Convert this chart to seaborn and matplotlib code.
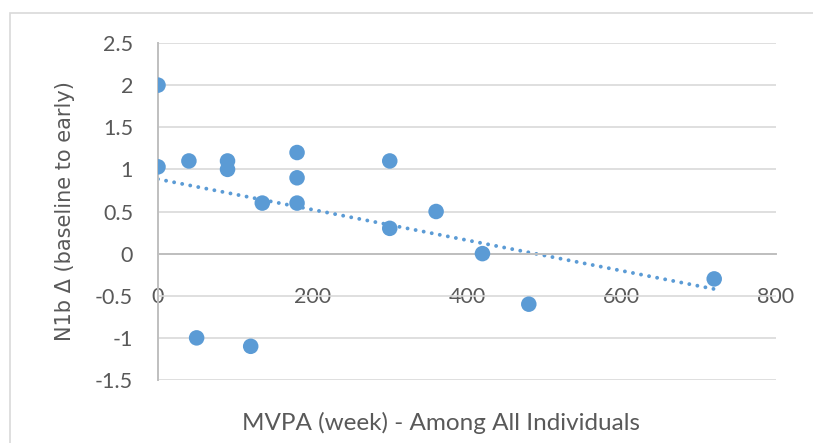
import matplotlib
matplotlib.use('Agg')
import matplotlib.pyplot as plt
from matplotlib.patches import Rectangle
import numpy as np
import pandas as pd
import seaborn as sns

# values
mvpa = [0, 0, 40, 90, 90, 50, 120, 135, 180, 180, 180, 300, 300, 360, 420, 480, 720]
n1b_delta = [2.0, 1.03, 1.1, 1.1, 1.0, -1.0, -1.1, 0.6, 1.2, 0.9, 0.6, 1.1, 0.3, 0.5, 0.0, -0.6, -0.3]
xticks = [0, 200, 400, 600, 800]
yticks = [-1.5, -1, -0.5, 0, 0.5, 1, 1.5, 2, 2.5]

df = pd.DataFrame({'mvpa': mvpa, 'n1b': n1b_delta})
blue = '#5B9BD5'
narrow = ['Lato', 'DejaVu Sans']

sns.set_style('white')
fig = plt.figure(figsize=(8.13, 4.43), dpi=100)
ax = fig.add_axes([158 / 813, 1 - 380 / 443, 618 / 813, 337 / 443])

# chart border
fig.patches.append(Rectangle((10 / 813, -0.1), 1.2, 1 - 13 / 443 + 0.1,
                             transform=fig.transFigure, fill=False,
                             edgecolor='#D9D9D9', lw=1.2))

# linear trendline (Excel style)
slope, icpt = np.polyfit(df.mvpa, df.n1b, 1)
xs = np.array([df.mvpa.min(), df.mvpa.max()])
ax.plot(xs, icpt + slope * xs, color=blue, lw=2.8,
        linestyle=(0, (0.01, 2.1)), dash_capstyle='round', zorder=2)

sns.scatterplot(data=df, x='mvpa', y='n1b', ax=ax, color=blue, s=125,
                edgecolor='none', zorder=3)

ax.set_xlim(0, 800)
ax.set_ylim(-1.5, 2.5)
ax.set_yticks(yticks)
ax.set_yticklabels(['-1.5', '-1', '-0.5', '0', '0.5', '1', '1.5', '2', '2.5'])
ax.set_xticks(xticks)
ax.set_xticklabels([str(t) for t in xticks])
ax.yaxis.grid(True, color='#D9D9D9', lw=1.2)
ax.set_axisbelow(True)

for s in ['top', 'right']:
    ax.spines[s].set_visible(False)
ax.spines['bottom'].set_position(('data', 0))
ax.spines['bottom'].set_color('#BFBFBF')
ax.spines['bottom'].set_linewidth(1.4)
ax.spines['left'].set_color('#BFBFBF')
ax.spines['left'].set_linewidth(1.4)

ax.tick_params(axis='x', length=0, pad=24, labelsize=15.5, labelcolor='#595959')
ax.tick_params(axis='y', length=0, pad=18, labelsize=15.5, labelcolor='#595959')
for lab in ax.get_xticklabels() + ax.get_yticklabels():
    lab.set_family(narrow)

ax.set_xlabel('')
ax.set_ylabel('N1b Δ (baseline to early)', fontsize=15, color='#595959',
              family=['DejaVu Sans'], labelpad=14)
fig.text(441 / 813, 1 - 423 / 443, 'MVPA (week) - Among All Individuals',
         ha='center', va='center', fontsize=17.5, color='#595959', family=narrow)

fig.savefig('out.png', dpi=100)
